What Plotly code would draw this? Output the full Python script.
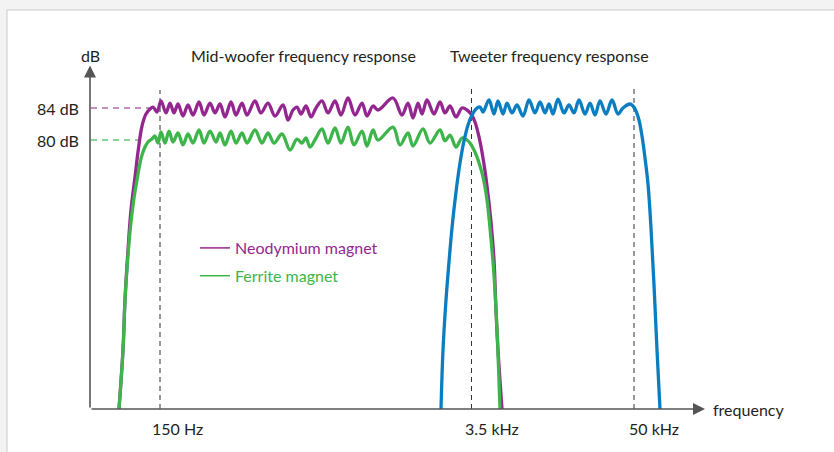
import plotly.graph_objects as go

# ---------------- data (schematic position along frequency axis, level in dB) ----------------
neo_pos = [119, 123, 125, 128, 131, 135, 138, 142, 146, 150, 153, 157, 161, 166, 170, 174, 178, 183,
           188, 193, 199, 204, 210, 215, 220, 225, 231, 236, 242, 247, 255, 261, 268, 275, 283, 288,
           293, 297, 301, 306, 311, 316, 322, 328, 335, 341, 348, 355, 362, 367, 373, 378, 393, 402,
           408, 413, 418, 422, 427, 434, 440, 445, 450, 456, 462, 467, 471, 475, 479, 483, 487, 491,
           494, 496, 498, 502]
neo_db = [46.38, 53.75, 60.0, 66.25, 71.25, 75.38, 78.5, 81.75, 83.25, 83.88, 84.12, 83.5, 84.88, 83.38,
          84.62, 83.38, 84.5, 83.0, 84.38, 83.12, 84.75, 83.12, 84.62, 83.38, 84.5, 82.88, 84.75, 83.12,
          84.62, 83.12, 84.88, 83.38, 84.62, 83.0, 84.38, 82.5, 83.75, 84.12, 83.25, 84.25, 82.88, 84.0,
          84.88, 83.38, 84.88, 83.12, 85.25, 83.12, 84.62, 83.0, 84.25, 83.75, 85.25, 83.12, 84.62, 82.75,
          84.62, 83.25, 85.0, 83.25, 84.75, 83.38, 84.25, 82.88, 84.0, 83.75, 83.25, 82.25, 80.38, 77.75,
          74.25, 69.75, 65.0, 58.75, 53.75, 46.38]

fer_pos = [119, 123, 125, 128, 131, 134, 137, 140, 142, 145, 148, 152, 155, 158, 161, 165, 169, 173,
           178, 183, 188, 193, 199, 204, 210, 216, 220, 225, 231, 236, 242, 247, 255, 262, 268, 274,
           282, 290, 297, 302, 306, 310, 316, 322, 328, 335, 341, 348, 354, 362, 367, 373, 378, 393,
           400, 408, 413, 423, 430, 440, 445, 450, 456, 462, 467, 470, 474, 477, 480, 483, 487, 491,
           494, 497, 500]
fer_db = [46.38, 53.75, 60.0, 65.62, 69.75, 72.75, 75.0, 77.12, 78.12, 79.12, 79.75, 80.12, 80.5, 79.62,
          81.0, 79.62, 81.12, 79.75, 80.88, 79.38, 80.75, 79.62, 81.25, 79.62, 81.12, 79.75, 80.88, 79.38,
          81.12, 79.62, 80.88, 79.62, 81.25, 79.62, 80.88, 79.62, 80.75, 78.75, 80.12, 79.62, 80.25,
          79.12, 80.25, 81.38, 79.62, 81.5, 79.62, 81.62, 79.38, 81.12, 79.25, 81.25, 80.0, 81.62, 79.38,
          80.88, 79.25, 81.38, 79.62, 81.25, 79.88, 80.62, 79.12, 80.25, 80.0, 79.62, 78.75, 77.88,
          76.75, 75.38, 72.5, 67.62, 63.12, 56.25, 46.38]

tw_pos = [441, 443, 446, 449, 452, 456, 460, 464, 468, 472, 476, 480, 483, 489, 494, 498, 503, 507,
          512, 517, 523, 529, 535, 540, 545, 549, 553, 558, 564, 569, 574, 579, 585, 590, 595, 600,
          606, 612, 618, 623, 630, 633, 636, 639, 642, 645, 648, 651, 654, 657, 660]
tw_db = [46.38, 53.75, 60.0, 64.75, 69.0, 73.5, 77.12, 79.88, 81.88, 83.12, 83.88, 84.12, 83.5, 85.0,
         83.25, 84.88, 83.25, 84.62, 83.38, 84.38, 83.0, 85.0, 83.38, 84.75, 83.38, 84.5, 83.25, 85.12,
         83.38, 84.38, 83.38, 85.0, 83.25, 84.62, 83.12, 84.88, 83.25, 85.0, 83.25, 84.0, 84.5, 84.25,
         83.62, 82.5, 80.5, 77.75, 74.5, 69.0, 61.88, 53.75, 46.38]

marker_pos = [160, 471.5, 634]
marker_labels = ["150 Hz", "3.5 kHz", "50 kHz"]
level_db = [84, 80]
level_labels = ["84 dB", "80 dB"]
series_names = ["Neodymium magnet", "Ferrite magnet", "Tweeter"]

assert len(neo_pos) == len(neo_db)
assert len(fer_pos) == len(fer_db)
assert len(tw_pos) == len(tw_db)

# ---------------- style ----------------
PURPLE = "#93278f"
GREEN = "#3db54a"
BLUE = "#0b7dc1"
PURPLE_L = "#b569b2"
GREEN_L = "#66c574"
AXIS = "#555555"
TEXT = "#231f20"
FONT = "Lato"
FS = 16

X0, X1 = 90, 705
Y0, Y1 = 46.375, 92.5

fig = go.Figure()

for pos, db, col, name in [(neo_pos, neo_db, PURPLE, series_names[0]),
                           (fer_pos, fer_db, GREEN, series_names[1]),
                           (tw_pos, tw_db, BLUE, series_names[2])]:
    fig.add_trace(go.Scatter(x=pos, y=db, mode="lines", name=name, showlegend=False,
                             line=dict(color=col, width=3.3, shape="spline", smoothing=1.0),
                             hoverinfo="skip"))

# legend entries (thin lines, coloured text)
for col, name in [(PURPLE, series_names[0]), (GREEN, series_names[1])]:
    fig.add_trace(go.Scatter(x=[None], y=[None], mode="lines", legendgroup=name,
                             name=f"<span style='color:{col}'>{name}</span>",
                             line=dict(color=col, width=1.5)))

shapes = []
# card background
shapes.append(dict(type="rect", xref="paper", yref="paper",
                   x0=(7 - X0) / 615, x1=(860 - X0) / 615,
                   y0=(409 - 470) / 369, y1=(409 - 10) / 369,
                   fillcolor="white", line=dict(color="#c9c9c9", width=1), layer="below"))
# level dashed guides
for lvl, col, xe in [(level_db[0], PURPLE_L, 149), (level_db[1], GREEN_L, 146)]:
    shapes.append(dict(type="line", xref="x", yref="y", x0=X0 + 1, x1=xe, y0=lvl, y1=lvl,
                       line=dict(color=col, width=1.3, dash="6px,5px"), layer="below"))
# vertical crossover / limit markers
for mp, top in zip(marker_pos, [86.25, 86.5, 86.6]):
    shapes.append(dict(type="line", xref="x", yref="y", x0=mp, x1=mp, y0=Y0, y1=top,
                       line=dict(color="#333333", width=1, dash="5px,4px"), layer="below"))

annotations = []
# axes with arrows
annotations.append(dict(x=X1, y=Y0, ax=X0, ay=Y0, xref="x", yref="y", axref="x", ayref="y",
                        text="", showarrow=True, arrowhead=2, arrowsize=1.5, arrowwidth=1.6,
                        arrowcolor=AXIS))
annotations.append(dict(x=X0, y=89.3, ax=X0, ay=Y0, xref="x", yref="y", axref="x", ayref="y",
                        text="", showarrow=True, arrowhead=2, arrowsize=1.5, arrowwidth=1.6,
                        arrowcolor=AXIS))
# x labels
for lab, cx in zip(marker_labels, [177, 492, 654]):
    annotations.append(dict(x=cx, y=(409 - 428) / 369, xref="x", yref="paper", text=lab,
                            showarrow=False, xanchor="center", yanchor="middle",
                            font=dict(size=FS, color=TEXT)))
# y labels
for lab, lvl in zip(level_labels, level_db):
    annotations.append(dict(x=(81 - X0) / 615, y=lvl, xref="paper", yref="y", text=lab,
                            showarrow=False, xanchor="right", yanchor="middle",
                            font=dict(size=FS, color=TEXT)))
# titles
for txt, cx in [("dB", 90), ("Mid-woofer frequency response", 303), ("Tweeter frequency response", 549)]:
    annotations.append(dict(x=(cx - X0) / 615, y=(409 - 55) / 369, xref="paper", yref="paper",
                            text=txt, showarrow=False, xanchor="center", yanchor="middle",
                            font=dict(size=FS, color=TEXT)))
annotations.append(dict(x=(711 - X0) / 615, y=(409 - 410) / 369, xref="paper", yref="paper",
                        text="frequency", showarrow=False, xanchor="left", yanchor="middle",
                        font=dict(size=FS, color=TEXT)))

fig.update_layout(
    width=834, height=452,
    margin=dict(l=90, r=129, t=40, b=43),
    paper_bgcolor="#f3f3f3",
    plot_bgcolor="rgba(0,0,0,0)",
    font=dict(family=FONT, size=FS, color=TEXT),
    xaxis=dict(range=[X0, X1], visible=False, fixedrange=True),
    yaxis=dict(range=[Y0, Y1], visible=False, fixedrange=True),
    shapes=shapes,
    annotations=annotations,
    showlegend=True,
    legend=dict(x=(195 - X0) / 615, y=(409 - 231) / 369, xanchor="left", yanchor="top",
                bgcolor="rgba(0,0,0,0)", font=dict(size=FS), tracegroupgap=4,
                itemwidth=30),
)

fig.write_html("out.html", config={"displayModeBar": False},
               post_script="document.body.style.margin='0';")
